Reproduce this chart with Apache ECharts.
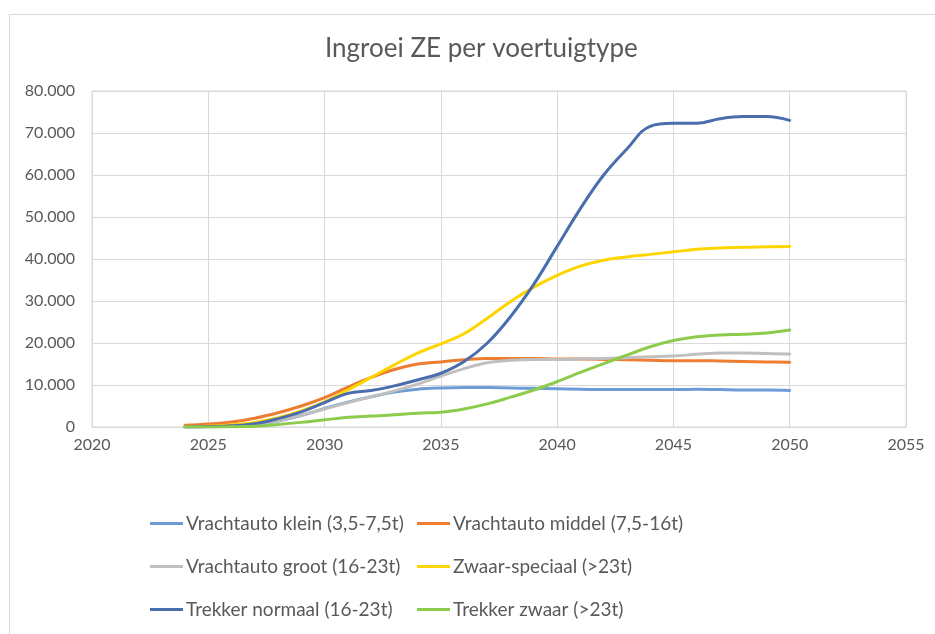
<!DOCTYPE html>
<html>
<head>
<meta charset="utf-8">
<title>Ingroei ZE per voertuigtype</title>
<style>
html, body { margin: 0; padding: 0; background: #fff; }
#main { width: 935px; height: 634px; }
</style>
</head>
<body>
<div id="main"></div>
<script src="https://cdn.jsdelivr.net/npm/echarts@6/dist/echarts.min.js"></script>
<script>
var years = [2024, 2025, 2026, 2027, 2028, 2029, 2030, 2031, 2032, 2033, 2034, 2035, 2036, 2037,
             2038, 2039, 2040, 2041, 2042, 2043, 2044, 2045, 2046, 2047, 2048, 2049, 2050];

var vrachtKlein = [0, 50, 150, 500, 1400, 2700, 4400, 5900, 7200, 8300, 9000, 9300, 9400, 9400,
                   9300, 9200, 9100, 9000, 8900, 8900, 8900, 8900, 9000, 8900, 8800, 8800, 8700];
var vrachtMiddel = [400, 700, 1200, 2100, 3400, 5000, 7000, 9500, 11800, 13700, 15000, 15500, 16000, 16300,
                    16300, 16300, 16200, 16200, 16100, 16000, 15900, 15800, 15800, 15700, 15600, 15500, 15400];
var vrachtGroot = [0, 50, 200, 600, 1500, 2800, 4300, 5800, 7200, 8600, 10200, 12100, 13900, 15300,
                   15900, 16100, 16100, 16200, 16300, 16500, 16700, 16900, 17300, 17600, 17600, 17500, 17400];
var zwaarSpeciaal = [100, 200, 500, 1100, 2200, 3800, 6000, 8800, 11800, 14800, 17600, 19800, 22200, 25900,
                     29900, 33300, 36100, 38300, 39700, 40500, 41100, 41700, 42300, 42600, 42800, 42900, 43000];
var trekkerNormaal = [0, 100, 300, 800, 2000, 3600, 5800, 8000, 8700, 9800, 11200, 12800, 15600, 20000,
                      26300, 34000, 43000, 52000, 60000, 66200, 71600, 72300, 72300, 73400, 73900, 73900, 73000];
var trekkerZwaar = [0, 0, 50, 200, 600, 1100, 1700, 2300, 2600, 2900, 3300, 3500, 4300, 5500,
                    7100, 8800, 10800, 13000, 15100, 17100, 19100, 20600, 21500, 21900, 22100, 22400, 23100];

var seriesNames = ['Vrachtauto klein (3,5-7,5t)', 'Vrachtauto middel (7,5-16t)',
                   'Vrachtauto groot (16-23t)', 'Zwaar-speciaal (>23t)',
                   'Trekker normaal (16-23t)', 'Trekker zwaar (>23t)'];
var seriesValues = [vrachtKlein, vrachtMiddel, vrachtGroot, zwaarSpeciaal, trekkerNormaal, trekkerZwaar];
var seriesColors = ['#6C9CD8', '#ED7D31', '#BFBFBF', '#FFD500', '#4A6DAD', '#8CCB4C'];

var fontName = 'Lato';
var textColor = '#595959';

function pairs(vals) {
	var d = [];
	for (var i = 0; i < years.length; i++) {
		d.push([years[i], vals[i]]);
	}
	return d;
}

var series = [];
for (var i = 0; i < seriesNames.length; i++) {
	series.push({
		name: seriesNames[i],
		type: 'line',
		smooth: 0.4,
		showSymbol: false,
		lineStyle: { width: 3, color: seriesColors[i], cap: 'round', join: 'round' },
		itemStyle: { color: seriesColors[i] },
		data: pairs(seriesValues[i])
	});
}

// two legend columns so the second column lines up like in Excel
function legendBlock(left, names) {
	return {
		orient: 'vertical',
		left: left,
		top: 514,
		padding: 0,
		itemGap: 24,
		itemWidth: 33,
		itemHeight: 3,
		icon: 'rect',
		textStyle: { fontFamily: fontName, fontSize: 19, color: textColor, padding: [0, 0, 0, -2] },
		data: names
	};
}

var option = {
	animation: false,
	textStyle: { fontFamily: fontName },
	title: {
		text: 'Ingroei ZE per voertuigtype',
		left: 320,
		top: 31,
		textStyle: { fontFamily: fontName, fontSize: 26, fontWeight: 'normal', color: textColor }
	},
	graphic: [{
		type: 'rect',
		shape: { x: 9.5, y: 14.5, width: 1000, height: 1000 },
		style: { fill: 'none', stroke: '#D9D9D9', lineWidth: 1 },
		silent: true
	}],
	legend: [
		legendBlock(150, [seriesNames[0], seriesNames[2], seriesNames[4]]),
		legendBlock(417, [seriesNames[1], seriesNames[3], seriesNames[5]])
	],
	grid: {
		left: 92,
		right: 29,
		top: 91,
		bottom: 207,
		show: true,
		borderColor: '#D9D9D9',
		borderWidth: 1
	},
	xAxis: {
		type: 'value',
		min: 2020,
		max: 2055,
		interval: 5,
		axisLine: { show: true, lineStyle: { color: '#D9D9D9' } },
		axisTick: { show: false },
		axisLabel: {
			fontFamily: fontName, fontSize: 16, color: textColor, margin: 10,
			formatter: function (v) { return String(v); }
		},
		splitLine: { show: true, lineStyle: { color: '#D9D9D9', width: 1 } }
	},
	yAxis: {
		type: 'value',
		min: 0,
		max: 80000,
		interval: 10000,
		axisLine: { show: false },
		axisTick: { show: false },
		axisLabel: {
			fontFamily: fontName, fontSize: 16, color: textColor, margin: 17,
			formatter: function (v) {
				return String(v).replace(/\B(?=(\d{3})+(?!\d))/g, '.');
			}
		},
		splitLine: { show: true, lineStyle: { color: '#D9D9D9', width: 1 } }
	},
	series: series
};

var myChart = echarts.init(document.getElementById('main'));
myChart.setOption(option);
</script>
</body>
</html>
